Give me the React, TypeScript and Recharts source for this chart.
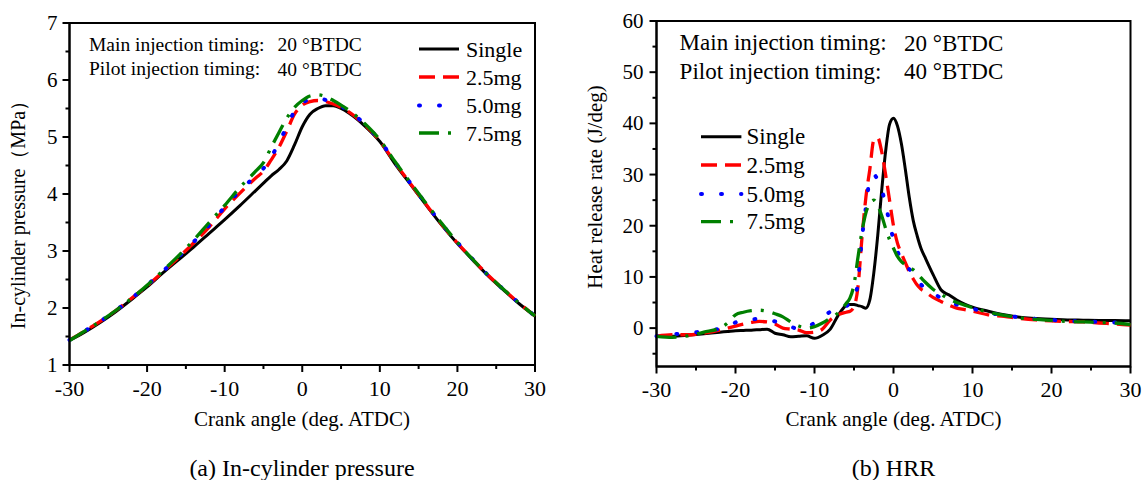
import React from "react";
import { LineChart, Line, XAxis, YAxis, Legend, ReferenceArea, Customized } from "recharts";

const FONT = '"Liberation Serif", "Times New Roman", serif';

// (a) in-cylinder pressure, MPa
const pAngle = [-30, -28, -26, -24, -22, -20, -18, -16, -14, -12, -10, -8, -6, -5, -4, -3, -2, -1, 0, 1, 2, 3, 4, 5, 6, 8, 10, 12, 14, 16, 18, 20, 22, 24, 26, 28, 30];
const pSingle = [1.43, 1.58, 1.75, 1.94, 2.15, 2.37, 2.61, 2.84, 3.07, 3.31, 3.55, 3.8, 4.06, 4.19, 4.32, 4.43, 4.58, 4.86, 5.18, 5.4, 5.5, 5.55, 5.55, 5.5, 5.42, 5.2, 4.92, 4.52, 4.16, 3.8, 3.45, 3.13, 2.84, 2.56, 2.31, 2.07, 1.86];
const p25 = [1.44, 1.6, 1.77, 1.96, 2.17, 2.39, 2.63, 2.88, 3.14, 3.42, 3.74, 4.02, 4.28, 4.4, 4.6, 4.82, 5.1, 5.4, 5.56, 5.62, 5.64, 5.62, 5.58, 5.52, 5.44, 5.22, 4.93, 4.54, 4.17, 3.81, 3.46, 3.14, 2.85, 2.57, 2.32, 2.08, 1.86];
const p50 = [1.44, 1.6, 1.77, 1.96, 2.17, 2.4, 2.64, 2.89, 3.16, 3.45, 3.77, 4.06, 4.32, 4.45, 4.65, 4.9, 5.18, 5.45, 5.6, 5.66, 5.68, 5.65, 5.6, 5.54, 5.46, 5.23, 4.94, 4.55, 4.18, 3.82, 3.47, 3.15, 2.85, 2.57, 2.32, 2.08, 1.86];
const p75 = [1.43, 1.6, 1.77, 1.96, 2.17, 2.4, 2.65, 2.91, 3.19, 3.5, 3.8, 4.12, 4.4, 4.55, 4.82, 5.08, 5.33, 5.52, 5.64, 5.72, 5.74, 5.71, 5.64, 5.56, 5.47, 5.24, 4.95, 4.56, 4.19, 3.83, 3.48, 3.15, 2.85, 2.57, 2.32, 2.08, 1.86];

// (b) heat release rate, J/deg
const hAngle = [-30, -28, -26, -24, -22, -21, -20, -19, -18, -17, -16, -15, -14, -13, -12, -11, -10, -9, -8, -7, -6, -5.5, -5, -4.5, -4, -3.5, -3, -2.5, -2, -1.5, -1, -0.5, 0, 0.5, 1, 1.5, 2, 2.5, 3, 3.5, 4, 5, 6, 7, 8, 9, 10, 12, 14, 16, 18, 20, 22, 24, 26, 28, 30];
const hSingle = [-1.6, -1.6, -1.4, -1.1, -0.8, -0.65, -0.5, -0.45, -0.4, -0.3, -0.2, -1.0, -1.3, -1.7, -1.6, -1.5, -2.0, -1.4, -0.2, 2.5, 4.4, 4.6, 4.6, 4.4, 4.2, 3.9, 5.5, 10.7, 18.0, 26.8, 34.5, 39.8, 41.0, 39.5, 36.0, 31.0, 25.5, 21.0, 18.0, 15.5, 13.8, 10.5, 7.5, 6.5, 5.5, 4.7, 4.1, 3.3, 2.6, 2.1, 1.9, 1.75, 1.6, 1.55, 1.5, 1.5, 1.45];
const h25 = [-1.6, -1.3, -1.3, -1.0, -0.4, 0.0, 0.4, 0.8, 1.1, 1.3, 1.2, 0.8, 0.0, -0.2, -0.4, -0.9, -0.8, -0.2, 1.6, 2.6, 3.1, 3.3, 4.2, 8.0, 17.5, 25.5, 31.0, 36.7, 37.2, 34.5, 30.0, 25.0, 20.0, 16.6, 14.6, 12.8, 11.0, 9.6, 8.4, 7.6, 7.1, 6.0, 5.2, 4.5, 3.9, 3.6, 3.3, 2.6, 2.3, 1.9, 1.6, 1.4, 1.3, 1.2, 1.0, 0.8, 0.6];
const h50 = [-1.6, -1.2, -1.0, -0.6, -0.1, 0.3, 1.1, 1.5, 1.7, 1.8, 1.6, 1.3, 0.9, 0.3, -0.2, 0.2, 1.0, 2.0, 3.2, 3.6, 4.3, 4.8, 5.5, 9.0, 17.5, 23.5, 29.0, 30.0, 28.9, 27.0, 24.2, 20.5, 17.3, 15.0, 13.3, 12.3, 11.5, 10.8, 9.5, 8.5, 7.7, 6.8, 5.9, 5.2, 4.6, 4.2, 3.8, 3.0, 2.5, 2.1, 1.8, 1.6, 1.4, 1.3, 1.2, 1.1, 0.9];
const h75 = [-1.6, -1.8, -1.5, -0.8, 0.0, 1.0, 2.6, 3.1, 3.4, 3.5, 3.3, 2.8, 2.2, 1.2, 0.4, 0.0, 0.3, 1.0, 1.95, 3.0, 4.8, 5.9, 8.5, 13.8, 18.8, 22.5, 24.3, 25.0, 24.0, 22.0, 19.5, 17.3, 15.6, 14.0, 13.0, 12.4, 11.9, 11.4, 10.6, 9.8, 9.0, 7.6, 6.6, 5.7, 5.0, 4.5, 4.0, 3.1, 2.5, 2.0, 1.7, 1.5, 1.3, 1.2, 1.1, 1.0, 0.7];

const seriesNames = ["Single", "2.5mg", "5.0mg", "7.5mg"];
const angleTicks = [-30, -25, -20, -15, -10, -5, 0, 5, 10, 15, 20, 25, 30];
const pressureTicks = [1, 1.5, 2, 2.5, 3, 3.5, 4, 4.5, 5, 5.5, 6, 6.5, 7];
const hrrTicks = [-5, 0, 5, 10, 15, 20, 25, 30, 35, 40, 45, 50, 55, 60];

const styles = [
  { color: "#000000", dash: undefined, cap: "butt", width: 3 },
  { color: "#ff0000", dash: "16 8", cap: "butt", width: 3.3 },
  { color: "#0000ff", dash: "1 19", cap: "round", width: 4 },
  { color: "#008000", dash: "20 9 3 9", cap: "butt", width: 3.3 },
];

const pressureData = pAngle.map((a, i) => ({ angle: a, s0: pSingle[i], s1: p25[i], s2: p50[i], s3: p75[i] }));
const hrrData = hAngle.map((a, i) => ({ angle: a, s0: hSingle[i], s1: h25[i], s2: h50[i], s3: h75[i] }));

const makeXTick = (isMajor: (v: number) => boolean) => (props: any) => {
  const { x, y, payload } = props;
  const major = isMajor(payload.value);
  return (
    <g>
      <line x1={x} x2={x} y1={y} y2={y + (major ? 7 : 4)} stroke="#000" strokeWidth={2} />
      {major && (
        <text x={x} y={y + 23} textAnchor="middle" dominantBaseline="central" fontSize={22} fontFamily={FONT} fill="#000">
          {payload.value}
        </text>
      )}
    </g>
  );
};

const makeYTick = (isMajor: (v: number) => boolean, gap: number) => (props: any) => {
  const { x, y, payload } = props;
  const major = isMajor(payload.value);
  return (
    <g>
      <line x1={x} x2={x - (major ? 7 : 4)} y1={y} y2={y} stroke="#000" strokeWidth={2} />
      {major && (
        <text x={x - gap} y={y} textAnchor="end" dominantBaseline="central" fontSize={21} fontFamily={FONT} fill="#000">
          {payload.value}
        </text>
      )}
    </g>
  );
};

const makeLegend = (cfg: { x1: number; x2: number; tx: number; ys: number[]; fontSize: number }) => () => (
  <svg width={573} height={240} style={{ overflow: "visible" }}>
    {seriesNames.map((name, i) => (
      <g key={name}>
        <line
          x1={cfg.x1}
          x2={cfg.x2}
          y1={cfg.ys[i]}
          y2={cfg.ys[i]}
          stroke={styles[i].color}
          strokeWidth={styles[i].width}
          strokeDasharray={styles[i].dash}
          strokeLinecap={styles[i].cap as any}
        />
        <text x={cfg.tx} y={cfg.ys[i]} dominantBaseline="central" fontSize={cfg.fontSize} fontFamily={FONT} fill="#000">
          {name}
        </text>
      </g>
    ))}
  </svg>
);

const Texts = (props: any) => {
  const { c } = props;
  return (
    <g fontFamily={FONT} fill="#000">
      <text x={c.noteX} y={c.noteY[0]} dominantBaseline="central" fontSize={c.noteSize}>
        Main injection timing:
        <tspan x={c.valX}>20 °BTDC</tspan>
      </text>
      <text x={c.noteX} y={c.noteY[1]} dominantBaseline="central" fontSize={c.noteSize}>
        Pilot injection timing:
        <tspan x={c.valX}>40 °BTDC</tspan>
      </text>
      <text x={c.xTitle[0]} y={c.xTitle[1]} textAnchor="middle" dominantBaseline="central" fontSize={21}>
        Crank angle (deg. ATDC)
      </text>
      <text
        x={c.yTitle[0]}
        y={c.yTitle[1]}
        textAnchor="middle"
        dominantBaseline="central"
        fontSize={c.yTitleSize}
        transform={`rotate(-90 ${c.yTitle[0]} ${c.yTitle[1]})`}
      >
        {c.yTitleText}
      </text>
    </g>
  );
};

function Panel(props: any) {
  const { data, margin, yWidth, xHeight, yDomain, yTicks, yMajor, yGap, legend, texts } = props;
  return (
    <LineChart width={573} height={440} data={data} margin={margin}>
      <XAxis
        dataKey="angle"
        type="number"
        domain={[-30, 30]}
        ticks={angleTicks}
        interval={0}
        height={xHeight}
        tickSize={0}
        tickMargin={0}
        tickLine={false}
        axisLine={{ stroke: "#000", strokeWidth: 2 }}
        tick={makeXTick((v) => v % 10 === 0)}
      />
      <YAxis
        type="number"
        domain={yDomain}
        ticks={yTicks}
        interval={0}
        width={yWidth}
        tickSize={0}
        tickMargin={0}
        tickLine={false}
        axisLine={{ stroke: "#000", strokeWidth: 2 }}
        tick={makeYTick(yMajor, yGap)}
        allowDataOverflow
      />
      <ReferenceArea x1={-30} x2={30} y1={yDomain[0]} y2={yDomain[1]} fill="none" stroke="#000" strokeWidth={2} />
      {seriesNames.map((name, i) => (
        <Line
          key={name}
          name={name}
          dataKey={`s${i}`}
          type="monotone"
          stroke={styles[i].color}
          strokeWidth={styles[i].width}
          strokeDasharray={styles[i].dash}
          strokeLinecap={styles[i].cap as any}
          dot={false}
          isAnimationActive={false}
        />
      ))}
      <Legend
        layout="vertical"
        align="center"
        verticalAlign="middle"
        wrapperStyle={{ left: 0, top: 0, width: 573, height: 240 }}
        content={makeLegend(legend)}
      />
      <Customized component={<Texts c={texts} />} />
    </LineChart>
  );
}

export default function App() {
  return (
    <div style={{ position: "absolute", left: 0, top: 0, width: 1146, height: 480, background: "#fff", fontFamily: FONT }}>
      <div style={{ position: "absolute", left: 0, top: 0 }}>
        <Panel
          data={pressureData}
          margin={{ top: 23, right: 38, left: 0, bottom: 0 }}
          yWidth={69.5}
          xHeight={75}
          yDomain={[1, 7]}
          yTicks={pressureTicks}
          yMajor={(v: number) => Number.isInteger(v)}
          yGap={12}
          legend={{ x1: 419, x2: 459, tx: 466, ys: [49, 77, 105.5, 133], fontSize: 22 }}
          texts={{
            noteX: 89,
            valX: 277.6,
            noteY: [44, 68.5],
            noteSize: 19.5,
            xTitle: [302, 419],
            yTitle: [18, 210],
            yTitleSize: 20,
            yTitleText: "In-cylinder pressure（MPa）",
          }}
        />
      </div>
      <div style={{ position: "absolute", left: 573, top: 0 }}>
        <Panel
          data={hrrData}
          margin={{ top: 21, right: 15.5, left: 0, bottom: 0 }}
          yWidth={83.5}
          xHeight={73.5}
          yDomain={[-7.5, 60]}
          yTicks={hrrTicks}
          yMajor={(v: number) => v % 10 === 0}
          yGap={13}
          legend={{ x1: 128, x2: 168.4, tx: 173.5, ys: [136.7, 165, 194, 221.7], fontSize: 23 }}
          texts={{
            noteX: 106.6,
            valX: 331,
            noteY: [42.7, 71],
            noteSize: 23,
            xTitle: [320.5, 419],
            yTitle: [22, 187],
            yTitleSize: 21,
            yTitleText: "Heat release rate (J/deg)",
          }}
        />
      </div>
      <div style={{ position: "absolute", left: 102, top: 453, width: 400, textAlign: "center", fontSize: 24, lineHeight: "30px", color: "#000" }}>
        (a) In-cylinder pressure
      </div>
      <div style={{ position: "absolute", left: 693.5, top: 453, width: 400, textAlign: "center", fontSize: 24, lineHeight: "30px", color: "#000" }}>
        (b) HRR
      </div>
    </div>
  );
}
